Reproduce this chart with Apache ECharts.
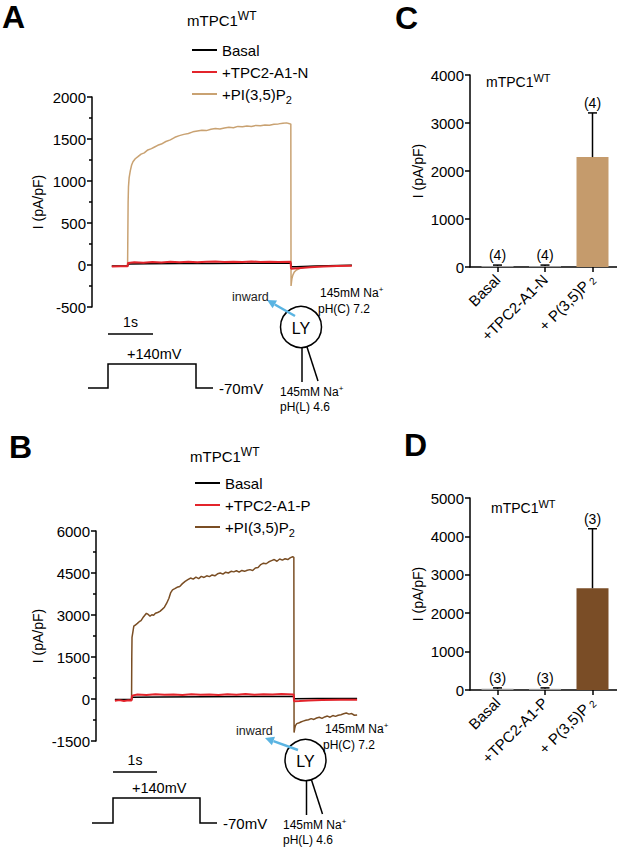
<!DOCTYPE html>
<html>
<head>
<meta charset="utf-8">
<script src="https://cdn.jsdelivr.net/npm/echarts@6/dist/echarts.min.js"></script>
<style>
html,body{margin:0;padding:0;background:#fff;}
#chart{width:617px;height:848px;}
</style>
</head>
<body>
<div id="chart"></div>
<script>
// ---------- DATA ----------
// Panel A traces: [time (s) from start of sweep, current (pA/pF)]
const aBasal = [[0,-12],[0.35,-12],[0.36,12],[0.8,15],[1.5,17],[2.2,18],[3.0,20],[3.6,22],[3.97,22],[3.98,-22],[4.1,-20],[4.4,-14],[4.8,-8],[5.33,-4]];
const aTpc = [[0,-18],[0.2,-15],[0.35,-16],[0.36,25],[0.5,32],[0.7,28],[0.9,35],[1.1,30],[1.3,38],[1.5,33],[1.7,40],[1.9,34],[2.1,38],[2.3,42],[2.5,36],[2.7,40],[2.9,35],[3.1,42],[3.3,37],[3.5,40],[3.7,36],[3.97,38],[3.98,-45],[4.05,-42],[4.2,-36],[4.4,-28],[4.7,-18],[5.0,-12],[5.33,-8]];
const aPi = [[0,-15],[0.35,-15],[0.355,300],[0.362,750],[0.37,930],[0.385,1040],[0.41,1120],[0.44,1190],[0.47,1230],[0.52,1265],[0.58,1290],[0.65,1320],[0.72,1335],[0.8,1370],[0.88,1385],[0.95,1405],[1.02,1425],[1.1,1440],[1.2,1470],[1.3,1490],[1.4,1520],[1.5,1540],[1.6,1555],[1.7,1565],[1.8,1585],[1.9,1595],[2.0,1605],[2.1,1600],[2.2,1615],[2.3,1625],[2.4,1618],[2.5,1630],[2.6,1640],[2.7,1635],[2.8,1650],[2.9,1645],[3.0,1655],[3.1,1650],[3.2,1662],[3.3,1658],[3.4,1668],[3.5,1665],[3.6,1675],[3.7,1680],[3.8,1688],[3.88,1692],[3.95,1682],[3.975,1680],[3.98,-250],[3.99,-200],[4.0,-160],[4.02,-120],[4.05,-85],[4.1,-60],[4.18,-40],[4.3,-25],[4.5,-15],[4.8,-8],[5.33,-5]];
const aTicks = [-500,0,500,1000,1500,2000];

// Panel B traces
const bBasal = [[0,-20],[0.37,-20],[0.38,60],[1,70],[2,80],[3,85],[3.97,90],[3.98,10],[4.5,15],[5.38,20]];
const bTpc = [[0,-60],[0.1,-40],[0.2,-70],[0.3,-45],[0.37,-50],[0.38,120],[0.5,160],[0.7,140],[0.9,170],[1.1,150],[1.3,165],[1.5,145],[1.7,170],[1.9,150],[2.1,165],[2.3,145],[2.5,170],[2.7,155],[2.9,175],[3.1,150],[3.3,170],[3.5,160],[3.7,175],[3.97,160],[3.98,-80],[4.1,-70],[4.3,-50],[4.6,-40],[5.0,-30],[5.38,-25]];
const bPi = [[0,-40],[0.15,-35],[0.3,-45],[0.37,-40],[0.375,1500],[0.38,2200],[0.4,2400],[0.42,2600],[0.46,2650],[0.5,2700],[0.54,2760],[0.58,2800],[0.62,2900],[0.66,2980],[0.7,3060],[0.74,3020],[0.78,2960],[0.82,3010],[0.86,2990],[0.9,3060],[0.95,3090],[1.0,3130],[1.05,3200],[1.1,3280],[1.15,3420],[1.2,3600],[1.24,3800],[1.28,3900],[1.33,3940],[1.38,3990],[1.44,4020],[1.5,4120],[1.56,4200],[1.62,4260],[1.68,4320],[1.74,4280],[1.8,4350],[1.86,4300],[1.92,4380],[1.98,4340],[2.04,4400],[2.1,4370],[2.16,4430],[2.22,4400],[2.28,4470],[2.34,4500],[2.4,4460],[2.46,4530],[2.52,4500],[2.58,4560],[2.64,4540],[2.7,4580],[2.76,4530],[2.82,4590],[2.88,4560],[2.94,4600],[3.0,4620],[3.06,4590],[3.12,4680],[3.18,4700],[3.24,4800],[3.3,4850],[3.36,4830],[3.42,4900],[3.48,4940],[3.54,4980],[3.6,4920],[3.66,5000],[3.72,4960],[3.78,5010],[3.84,4980],[3.9,5050],[3.95,5080],[3.975,5060],[3.98,-1200],[3.995,-1050],[4.01,-950],[4.04,-880],[4.08,-860],[4.13,-820],[4.18,-790],[4.24,-760],[4.3,-740],[4.36,-700],[4.42,-730],[4.48,-680],[4.54,-650],[4.6,-690],[4.66,-640],[4.72,-610],[4.78,-650],[4.84,-590],[4.9,-620],[4.96,-580],[5.02,-560],[5.08,-530],[5.14,-500],[5.2,-540],[5.26,-520],[5.32,-580],[5.38,-570]];
const bTicks = [-1500,0,1500,3000,4500,6000];

// Panel C bars
const cCats = ['Basal','+TPC2-A1-N','+ P(3,5)P2'];
const cMeans = [20,20,2290];
const cErrs = [20,20,920];
const cN = [4,4,4];
const cTicks = [0,1000,2000,3000,4000];

// Panel D bars
const dCats = ['Basal','+TPC2-A1-P','+ P(3,5)P2'];
const dMeans = [30,30,2650];
const dErrs = [25,25,1550];
const dN = [3,3,3];
const dTicks = [0,1000,2000,3000,4000,5000];

// ---------- STYLE ----------
const FONT = '"Liberation Sans", Arial, Helvetica, sans-serif';
const BLACK = '#000';
const RED = '#e3242b';
const TAN = '#c9a272';
const BROWN = '#7a4e24';
const TANBAR = '#c59b6c';
const BROWNBAR = '#7a4d26';
const GREYBAR = '#9a9a9a';
const BLUE = '#5ab4e2';

const chart = echarts.init(document.getElementById('chart'), null, {renderer:'svg'});

const axLine = {show:true, onZero:false, lineStyle:{color:BLACK, width:1.5}};
const tickStyle = {color:BLACK, width:1.5};

function yAx(grid, ticks, nameGap, minor){
  return {
    gridIndex:grid, type:'value', min:ticks[0], max:ticks[ticks.length-1], interval:ticks[1]-ticks[0],
    axisLine:axLine,
    axisTick:{show:true, length:5, lineStyle:tickStyle},
    minorTick:{show:!!minor, splitNumber:2, length:3, lineStyle:tickStyle},
    axisLabel:{fontSize:15, color:BLACK, margin:6, fontFamily:FONT, formatter:function(v){ return String(v); }},
    splitLine:{show:false},
    name:'I (pA/pF)', nameLocation:'middle', nameGap:nameGap,
    nameTextStyle:{fontSize:14, color:BLACK, fontFamily:FONT}
  };
}
function yHidden(grid, ticks){
  return {gridIndex:grid, type:'value', min:ticks[0], max:ticks[ticks.length-1], show:false, splitLine:{show:false}};
}
function xCat(grid, cats){
  return {
    gridIndex:grid, type:'category', data:cats,
    axisLine:{show:false},
    axisTick:{show:true, alignWithLabel:true, length:5, lineStyle:tickStyle},
    axisLabel:{rotate:45, fontSize:15, color:BLACK, margin:10, fontFamily:FONT, interval:0,
      formatter:function(v){ return v.endsWith('P2') ? v.slice(0,-1) + '{sub|2}' : v; },
      rich:{sub:{fontSize:10, color:BLACK, fontFamily:FONT, padding:[6,0,0,3]}}}
  };
}
function xFrame(grid){
  return {gridIndex:grid, type:'value', min:0, max:1, axisLine:axLine, axisTick:{show:false}, axisLabel:{show:false}, splitLine:{show:false}};
}

function errRender(params, api){
  const i = api.value(0), m = api.value(1), e = api.value(2), n = api.value(3);
  const base = api.coord([i, m]);
  const top = api.coord([i, m + e]);
  const st = {stroke:BLACK, lineWidth:1.5};
  return {type:'group', children:[
    {type:'line', shape:{x1:base[0], y1:base[1], x2:top[0], y2:top[1]}, style:st},
    {type:'line', shape:{x1:top[0]-4.5, y1:top[1], x2:top[0]+4.5, y2:top[1]}, style:st},
    {type:'text', x:top[0], y:top[1]-3, style:{text:'(' + n + ')', align:'center', verticalAlign:'bottom', fontSize:14, fill:BLACK, fontFamily:FONT}}
  ]};
}

function line(name, xi, data, color, width){
  return {name:name, type:'line', xAxisIndex:xi, yAxisIndex:xi, data:data, showSymbol:false, symbol:'none',
    lineStyle:{color:color, width:width}, itemStyle:{color:color}, silent:true};
}

function legendFmt(name){
  const n = name.split('|')[1];
  return n.endsWith('P2') ? n.slice(0,-1) + '{sub|2}' : n;
}
function legend(prefix, mid, left, top){
  return {
    orient:'vertical', left:left, top:top, icon:'rect', itemWidth:25, itemHeight:2, itemGap:0,
    selectedMode:false,
    data:[prefix + '|Basal', prefix + '|' + mid, prefix + '|+PI(3,5)P2'],
    formatter:legendFmt,
    textStyle:{fontSize:15, color:BLACK, fontFamily:FONT, lineHeight:22,
      rich:{sub:{fontSize:11, lineHeight:11, verticalAlign:'bottom', color:BLACK, fontFamily:FONT}}}
  };
}

const supRich = function(fs){ return {sup:{fontSize:fs, lineHeight:fs, verticalAlign:'top', color:BLACK, fontFamily:FONT}}; };
function wtTitle(left, top, fs, sfs){
  return {text:'mTPC1{sup|WT}', left:left, top:top, padding:0,
    textStyle:{fontSize:fs, fontWeight:'normal', color:BLACK, fontFamily:FONT, lineHeight:20, rich:supRich(sfs)}};
}
function letter(t, left, top){
  return {text:t, left:left, top:top, padding:0, textStyle:{fontSize:32, fontWeight:'bold', color:BLACK, fontFamily:FONT, lineHeight:32}};
}

// ---------- SCHEMATIC (protocol + lysosome diagram) ----------
function txt(x, y, text, fs, align, color){
  return {type:'text', x:x, y:y, silent:true, style:{text:text, fontSize:fs, fontFamily:FONT, fill:color || BLACK,
    align:align || 'left', verticalAlign:'middle',
    rich:{sup:{fontSize:8, fontFamily:FONT, fill:color || BLACK, padding:[0,0,7,0]}}}};
}
function seg(x1, y1, x2, y2, w){
  return {type:'line', silent:true, shape:{x1:x1, y1:y1, x2:x2, y2:y2}, style:{stroke:BLACK, lineWidth:w || 1.5}};
}
function arrow(tx, ty, hx, hy){
  const dx = hx - tx, dy = hy - ty, L = Math.hypot(dx, dy);
  const ux = dx / L, uy = dy / L, nx = -uy, ny = ux;
  const hl = 9, hw = 4.5;
  const bx = hx - hl * ux, by = hy - hl * uy;
  return [
    {type:'line', silent:true, shape:{x1:tx, y1:ty, x2:bx, y2:by}, style:{stroke:BLUE, lineWidth:2.5}},
    {type:'polygon', silent:true, shape:{points:[[hx,hy],[bx + hw*nx, by + hw*ny],[bx - hw*nx, by - hw*ny]]}, style:{fill:BLUE}}
  ];
}
function schematic(o){
  const g = [];
  g.push(seg(o.sb[0], o.sb[2], o.sb[1], o.sb[2]));
  g.push(txt((o.sb[0] + o.sb[1]) / 2, o.sb[2] - 12, '1s', 14, 'center'));
  g.push(txt(o.step[1] + 19, o.step[3] - 10, '+140mV', 14.5, 'left'));
  g.push({type:'polyline', silent:true, shape:{points:[[o.step[0],o.step[4]],[o.step[1],o.step[4]],[o.step[1],o.step[3]],[o.step[2],o.step[3]],[o.step[2],o.step[4]],[o.step[2]+17,o.step[4]]]},
    style:{stroke:BLACK, lineWidth:1.5, fill:null}});
  g.push(txt(o.step[2] + 23, o.step[4], '-70mV', 15, 'left'));
  const c = o.cell;
  g.push(seg(c[0] + 1, c[1] + 20, c[0] + 1, c[1] + 55));
  g.push(seg(c[0] + 6, c[1] + 20, c[0] + 17, c[1] + 54));
  g.push({type:'circle', silent:true, shape:{cx:c[0], cy:c[1], r:20.5}, style:{stroke:BLACK, lineWidth:1.5, fill:'#fff'}});
  g.push(txt(c[0], c[1] + 1, 'LY', 16, 'center'));
  arrow(o.arr[0], o.arr[1], o.arr[2], o.arr[3]).forEach(function(e){ g.push(e); });
  g.push(txt(o.inw[0], o.inw[1], 'inward', 12.5, 'left', '#222'));
  g.push(txt(o.r[0], o.r[1], '145mM Na{sup|+}', 12, 'left'));
  g.push(txt(o.r[0] - 2, o.r[1] + 16, 'pH(C) 7.2', 12, 'left'));
  g.push(txt(o.b[0], o.b[1], '145mM Na{sup|+}', 12, 'left'));
  g.push(txt(o.b[0], o.b[1] + 15, 'pH(L) 4.6', 12, 'left'));
  return g;
}
const graphics = [].concat(
  schematic({sb:[108,153,334], step:[88,108,196,364,388], cell:[301,327], arr:[295,316,267,300], inw:[232,297], r:[320,293], b:[280,392]}),
  schematic({sb:[113,157,772], step:[92,113,200,798,823], cell:[305.5,760], arr:[298,750,265,738], inw:[236,731], r:[325,729], b:[283,825]})
);

const option = {
  animation:false,
  textStyle:{fontFamily:FONT},
  title:[
    letter('A', 2, 1), letter('C', 395, 2), letter('B', 9, 431), letter('D', 404, 429),
    wtTitle(187, 10, 15, 12), wtTitle(190, 446, 15, 12), wtTitle(486, 72, 14, 11), wtTitle(491, 498, 14, 11)
  ],
  legend:[ legend('A', '+TPC2-A1-N', 187, 34), legend('B', '+TPC2-A1-P', 190, 467) ],
  grid:[
    {left:92, top:97, width:263, height:210},
    {left:96, top:531, width:262, height:210},
    {left:470, top:75, right:0, height:192},
    {left:473.75, top:75, width:142.5, height:192},
    {left:470, top:498, right:0, height:192},
    {left:473.75, top:498, width:142.5, height:192}
  ],
  xAxis:[
    {gridIndex:0, type:'value', min:-0.44, max:5.4, show:false, splitLine:{show:false}},
    {gridIndex:1, type:'value', min:-0.42, max:5.4, show:false, splitLine:{show:false}},
    xFrame(2), xCat(3, cCats), xFrame(4), xCat(5, dCats)
  ],
  yAxis:[
    yAx(0, aTicks, 47, true), yAx(1, bTicks, 51, true),
    yAx(2, cTicks, 45, false), yHidden(3, cTicks),
    yAx(4, dTicks, 45, false), yHidden(5, dTicks)
  ],
  series:[
    line('A|+PI(3,5)P2', 0, aPi, TAN, 1.5),
    line('A|Basal', 0, aBasal, BLACK, 1.5),
    line('A|+TPC2-A1-N', 0, aTpc, RED, 2),
    line('B|+PI(3,5)P2', 1, bPi, BROWN, 1.5),
    line('B|Basal', 1, bBasal, BLACK, 1.5),
    line('B|+TPC2-A1-P', 1, bTpc, RED, 2),
    {type:'bar', xAxisIndex:3, yAxisIndex:3, barWidth:32, silent:true,
      data:cMeans.map(function(v, i){ return {value:v, itemStyle:{color: i === 2 ? TANBAR : GREYBAR}}; })},
    {type:'custom', xAxisIndex:3, yAxisIndex:3, silent:true, z:5, renderItem:errRender,
      data:cMeans.map(function(m, i){ return [i, m, cErrs[i], cN[i]]; })},
    {type:'bar', xAxisIndex:5, yAxisIndex:5, barWidth:32, silent:true,
      data:dMeans.map(function(v, i){ return {value:v, itemStyle:{color: i === 2 ? BROWNBAR : GREYBAR}}; })},
    {type:'custom', xAxisIndex:5, yAxisIndex:5, silent:true, z:5, renderItem:errRender,
      data:dMeans.map(function(m, i){ return [i, m, dErrs[i], dN[i]]; })}
  ],
  graphic:graphics
};
chart.setOption(option);
</script>
</body>
</html>
